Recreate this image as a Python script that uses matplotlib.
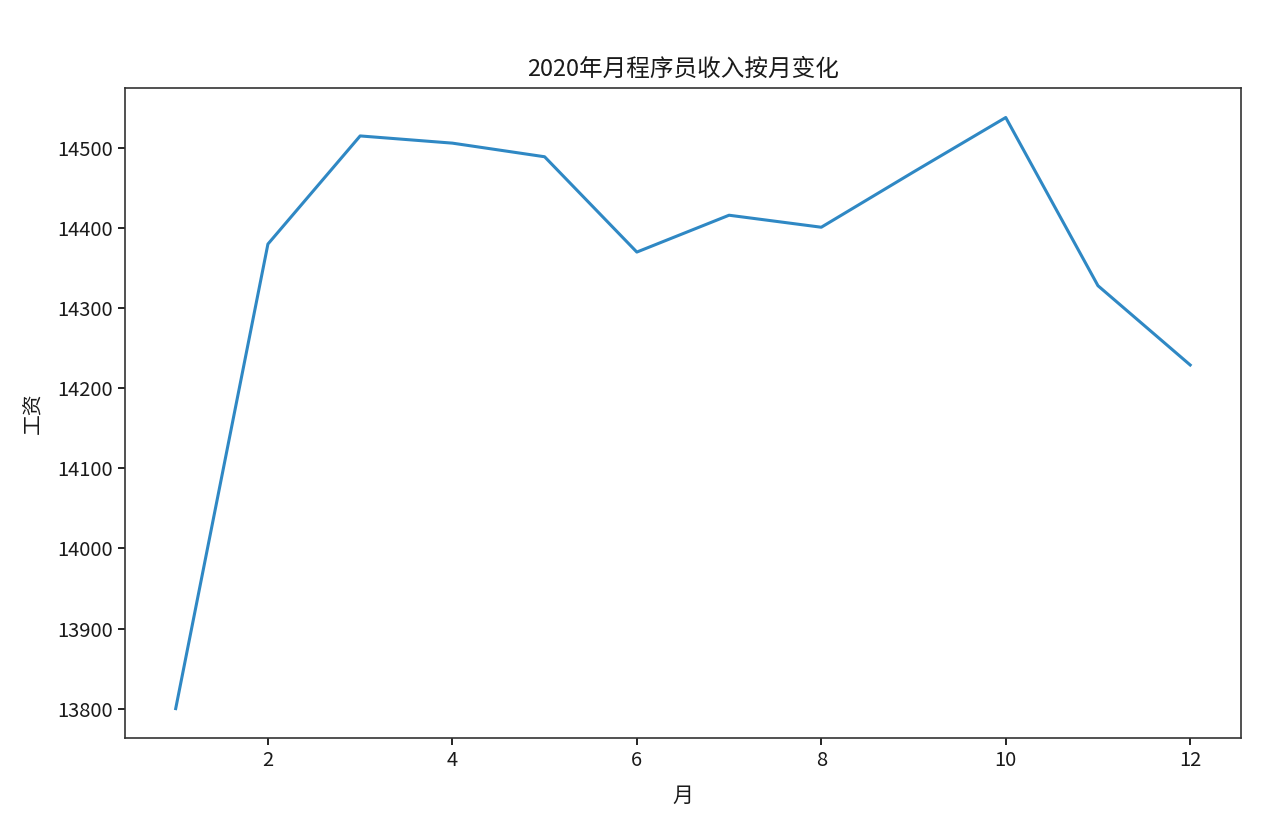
import matplotlib
matplotlib.use("Agg")
import matplotlib.pyplot as plt

plt.rcParams['font.family'] = ['Noto Sans CJK SC', 'DejaVu Sans']
plt.rcParams['axes.unicode_minus'] = False

months = [1, 2, 3, 4, 5, 6, 7, 8, 9, 10, 11, 12]
salary = [13800, 14380, 14515, 14506, 14489, 14370, 14416, 14401, 14470, 14538, 14328, 14229]

title = "2020年月程序员收入按月变化"
xlabel = "月"
ylabel = "工资"

fig = plt.figure(figsize=(12.7, 8.22), dpi=100)
ax = fig.add_axes([0.0984, 0.102, 0.8787, 0.791])
ax.plot(months, salary, color="#2f88c4", linewidth=2.2)
ax.set_title(title, fontsize=17, pad=9, color="#1a1a1a")
ax.set_xlabel(xlabel, fontsize=15, labelpad=10, color="#1a1a1a")
ax.set_ylabel(ylabel, fontsize=15, labelpad=10, color="#1a1a1a")
ax.tick_params(labelsize=14.5, length=5, width=1.2, labelcolor="#1a1a1a")
for s in ax.spines.values():
    s.set_linewidth(1.2)
    s.set_color("#333333")
fig.savefig("out.png", dpi=100)
